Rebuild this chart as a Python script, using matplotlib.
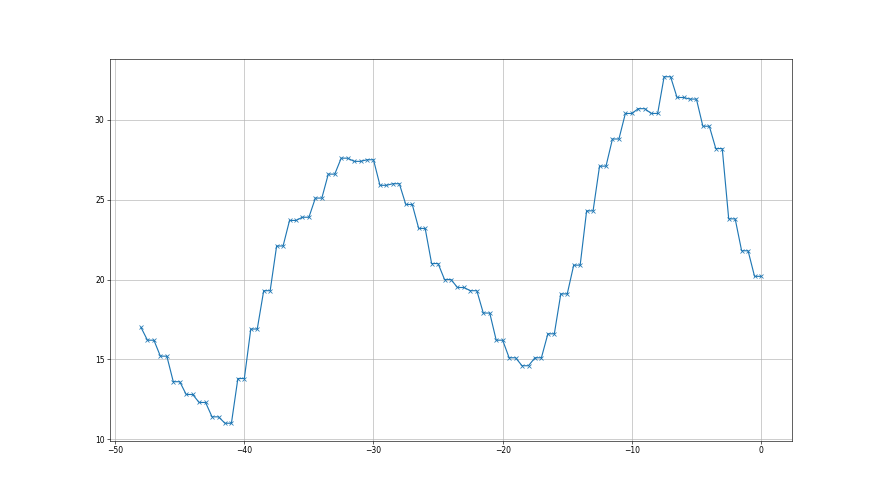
import numpy as np
import matplotlib
matplotlib.use('Agg')
import matplotlib.pyplot as plt

# one value per pair of half-steps, the first point stands alone
first_x = -48
first_y = 17.0
pair_x = np.arange(-47.5, 0.1, 1.0)
pair_y = [16.2, 15.2, 13.6, 12.8, 12.3, 11.4, 11.0, 13.8, 16.9, 19.3,
          22.1, 23.7, 23.9, 25.1, 26.6, 27.6, 27.4, 27.5, 25.9, 26.0,
          24.7, 23.2, 21.0, 20.0, 19.5, 19.3, 17.9, 16.2, 15.1, 14.6,
          15.1, 16.6, 19.1, 20.9, 24.3, 27.1, 28.8, 30.4, 30.7, 30.4,
          32.7, 31.4, 31.3, 29.6, 28.2, 23.8, 21.8, 20.2]

x = [first_x]
y = [first_y]
for px, py in zip(pair_x, pair_y):
    x += [px, px + 0.5]
    y += [py, py]

fig = plt.figure(figsize=(16, 9), dpi=55)
plt.plot(x, y, marker='x')
plt.grid()
plt.savefig('out.png', dpi=55)
